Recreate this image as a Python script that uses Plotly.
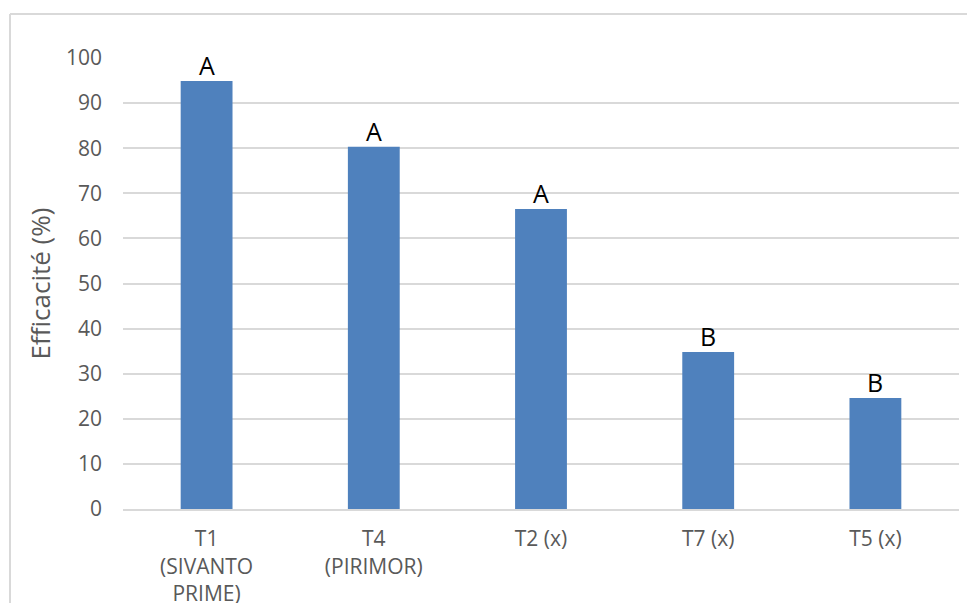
import plotly.graph_objects as go

categories = ["T1<br>(SIVANTO<br>PRIME)", "T4<br>(PIRIMOR)", "T2 (x)", "T7 (x)", "T5 (x)"]
values = [94.9, 80.3, 66.5, 34.8, 24.6]
letters = ["A", "A", "A", "B", "B"]
y_ticks = list(range(0, 101, 10))

W, H = 975, 603
OFF = 8  # page body margin
L, R, T, B = 123 - OFF, 16 + OFF, 58 - OFF, 94 + OFF
pw = W - L - R
ph = H - T - B


def px_x(x):
    return (x - OFF - L) / pw


def px_y(y):
    return (H - B - (y - OFF)) / ph


fig = go.Figure()
fig.add_trace(go.Bar(
    x=categories, y=values,
    marker=dict(color="#4F81BD", line=dict(width=0)),
    width=0.31,
))

for c, v, t in zip(categories, values, letters):
    fig.add_annotation(x=c, y=v, text=t, showarrow=False, yanchor="bottom",
                       yshift=-3, font=dict(size=25, color="#000000", family="Open Sans"))

# outer chart border (light gray)
fig.add_shape(type="line", xref="paper", yref="paper", x0=px_x(10), x1=px_x(990),
              y0=px_y(14), y1=px_y(14), line=dict(color="#D9D9D9", width=2))
fig.add_shape(type="line", xref="paper", yref="paper", x0=px_x(10), x1=px_x(10),
              y0=px_y(14), y1=px_y(620), line=dict(color="#D9D9D9", width=2))

fig.update_layout(
    width=W, height=H,
    margin=dict(l=L, r=R, t=T, b=B, autoexpand=False),
    paper_bgcolor="white", plot_bgcolor="white",
    showlegend=False,
    font=dict(family="Open Sans", color="#595959", size=21),
    xaxis=dict(showgrid=False, showline=True, linecolor="#D9D9D9", linewidth=2,
               tickfont=dict(size=21, color="#595959"), ticks="", ticklabelstandoff=10),
    yaxis=dict(range=[0, 100], tickvals=y_ticks, showgrid=True, gridcolor="#D9D9D9",
               gridwidth=2, zeroline=False, ticks="", ticklabelstandoff=20,
               tickfont=dict(size=21, color="#595959"),
               title=dict(text="Efficacité (%)", font=dict(size=26, color="#595959"), standoff=7)),
)

fig.write_html("out.html")
